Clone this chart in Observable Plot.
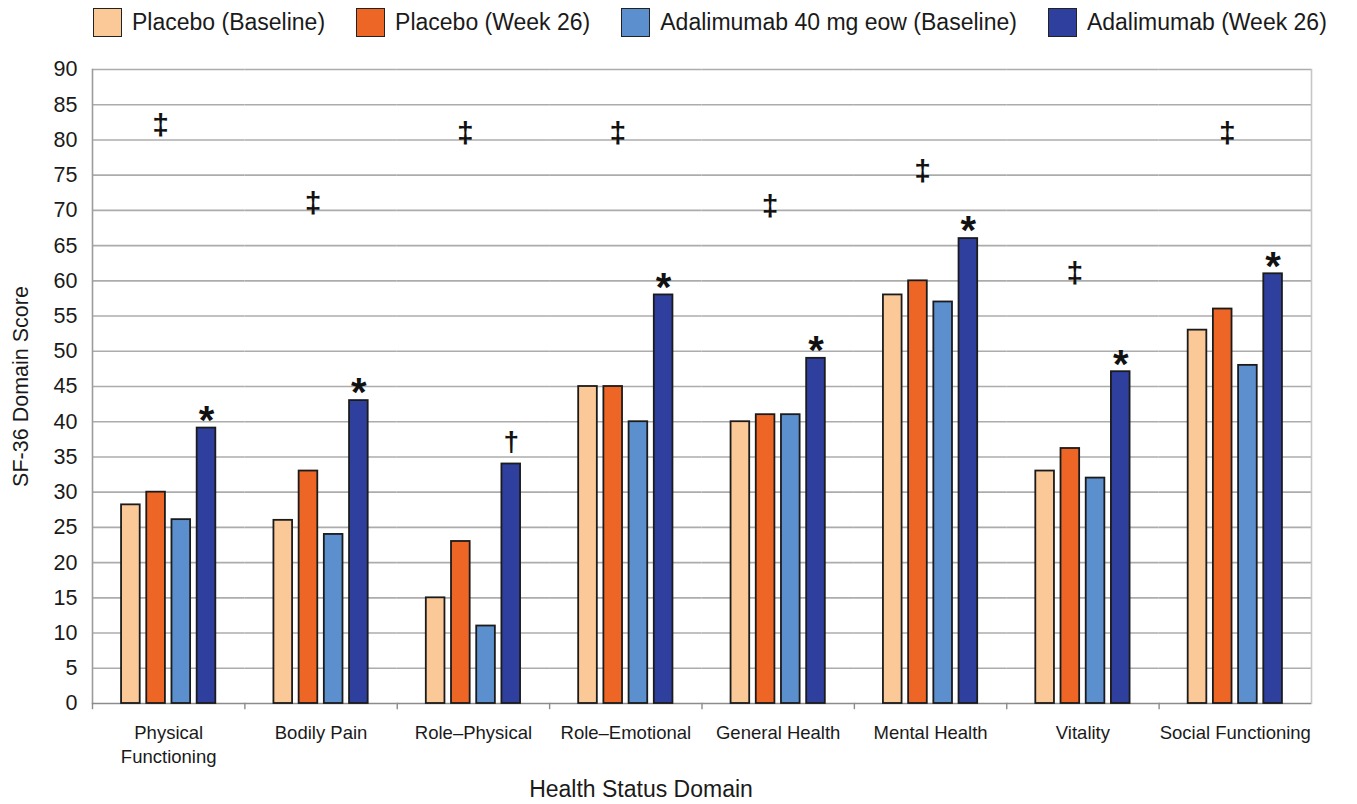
<!DOCTYPE html>
<html>
<head>
<meta charset="utf-8">
<script src="https://cdn.jsdelivr.net/npm/d3@7"></script>
<script src="https://cdn.jsdelivr.net/npm/@observablehq/plot@0.6"></script>
<style>
  body { margin: 0; background: #fff; font-family: "Liberation Sans", Arial, sans-serif; color: #1a1a1a; }
  #legend { height: 44px; display: flex; align-items: center; padding-left: 93px; font-size: 23px; }
  #legend .item { display: flex; align-items: center; margin-right: 31px; white-space: nowrap; }
  #legend .sw { width: 29px; height: 29px; border: 1.8px solid #222; box-sizing: border-box; margin-right: 10px; }
  #xtitle { width: 1282px; text-align: center; font-size: 23px; line-height: 30px; }
</style>
</head>
<body>
<div id="legend"></div>
<div id="chart"></div>
<div id="xtitle">Health Status Domain</div>
<script>
// SF-36 domains (x categories) and their tick labels
const categories = ["Physical Functioning", "Bodily Pain", "Role–Physical", "Role–Emotional",
  "General Health", "Mental Health", "Vitality", "Social Functioning"];
const tickLabels = ["Physical\nFunctioning", "Bodily Pain", "Role–Physical", "Role–Emotional",
  "General Health", "Mental Health", "Vitality", "Social Functioning"];

// Groups shown in each domain
const series = ["Placebo (Baseline)", "Placebo (Week 26)",
  "Adalimumab 40 mg eow (Baseline)", "Adalimumab (Week 26)"];
const colors = ["#fbc898", "#ee6625", "#5b8fce", "#2f3f9e"];

// Mean domain scores
const placeboBaseline = [28.2, 26, 15, 45, 40, 58, 33, 53];
const placeboWeek26   = [30, 33, 23, 45, 41, 60, 36.2, 56];
const adaBaseline     = [26.1, 24, 11, 40, 41, 57, 32, 48];
const adaWeek26       = [39.1, 43, 34, 58, 49, 66, 47.1, 61];

// Significance symbol over the Adalimumab week-26 bar
const significance = ["*", "*", "†", "*", "*", "*", "*", "*"];
// Height of the ‡ annotation in each domain (score units)
const doubleDaggerY = [82, 71, 81, 81, 70.5, 75.5, 61, 81];

const yTicks = d3.range(0, 95, 5);

const valuesBySeries = [placeboBaseline, placeboWeek26, adaBaseline, adaWeek26];
const rows = categories.flatMap((c, i) =>
  series.map((s, j) => ({domain: c, series: s, value: valuesBySeries[j][i]})));
const markRows = categories.map((c, i) =>
  ({domain: c, series: series[3], value: adaWeek26[i], symbol: significance[i]}));
const ddRows = categories.map((c, i) => ({domain: c, value: doubleDaggerY[i], symbol: "‡"}));

// Legend
const legend = document.getElementById("legend");
series.forEach((s, i) => {
  const item = document.createElement("div");
  item.className = "item";
  const sw = document.createElement("span");
  sw.className = "sw";
  sw.style.background = colors[i];
  const label = document.createElement("span");
  label.textContent = s;
  item.append(sw, label);
  legend.append(item);
});

const grid = "#acacac";

const chart = Plot.plot({
  width: 1357,
  height: 730,
  marginTop: 25,
  marginBottom: 71,
  marginLeft: 92,
  marginRight: 46,
  style: {fontFamily: "'Liberation Sans', Arial, sans-serif", color: "#1a1a1a", background: "#fff"},
  fx: {domain: categories, padding: 0, round: false, axis: null},
  x: {domain: series, paddingInner: 0.26, paddingOuter: 1.153, round: false, axis: null},
  y: {domain: [0, 90], axis: null},
  color: {domain: series, range: colors},
  marks: [
    Plot.gridY(yTicks.filter(d => d > 0), {stroke: grid, strokeOpacity: 1, strokeWidth: 1.6}),
    Plot.frame({anchor: "left", facetAnchor: "left", stroke: "#9c9c9c", strokeWidth: 1.6}),
    Plot.frame({anchor: "right", facetAnchor: "right", stroke: "#c6c6c6", strokeWidth: 1.6}),
    Plot.frame({anchor: "left", insetTop: 634, insetBottom: -5, stroke: "#8c8c8c", strokeWidth: 1.4}),
    Plot.ruleY([0], {stroke: "#8c8c8c", strokeWidth: 1.6}),
    Plot.barY(rows, {fx: "domain", x: "series", y: "value", fill: "series", stroke: "#1b1b1b", strokeWidth: 1.8}),
    Plot.text(markRows.filter(d => d.symbol === "*"), {
      fx: "domain", x: "series", y: "value", text: "symbol", dy: -7,
      fontSize: 40, fontWeight: "bold", fill: "#111"
    }),
    Plot.text(markRows.filter(d => d.symbol === "†"), {
      fx: "domain", x: "series", y: "value", text: "symbol", dy: -22,
      fontSize: 28, fontWeight: "bold", fill: "#111"
    }),
    Plot.text(ddRows, {
      fx: "domain", y: "value", text: "symbol", dx: -8,
      fontSize: 30, fontWeight: "bold", fill: "#111"
    }),
    Plot.axisY(yTicks, {
      anchor: "left", tickSize: 0, tickPadding: 15, fontSize: 21.5,
      label: "SF-36 Domain Score", labelAnchor: "center", labelOffset: 80, labelArrow: "none"
    }),
    Plot.axisFx({
      anchor: "bottom", tickSize: 0, tickPadding: 18, fontSize: 18.5, lineHeight: 1.3,
      label: null, tickFormat: d => tickLabels[categories.indexOf(d)]
    })
  ]
});
document.getElementById("chart").append(chart);
</script>
</body>
</html>
